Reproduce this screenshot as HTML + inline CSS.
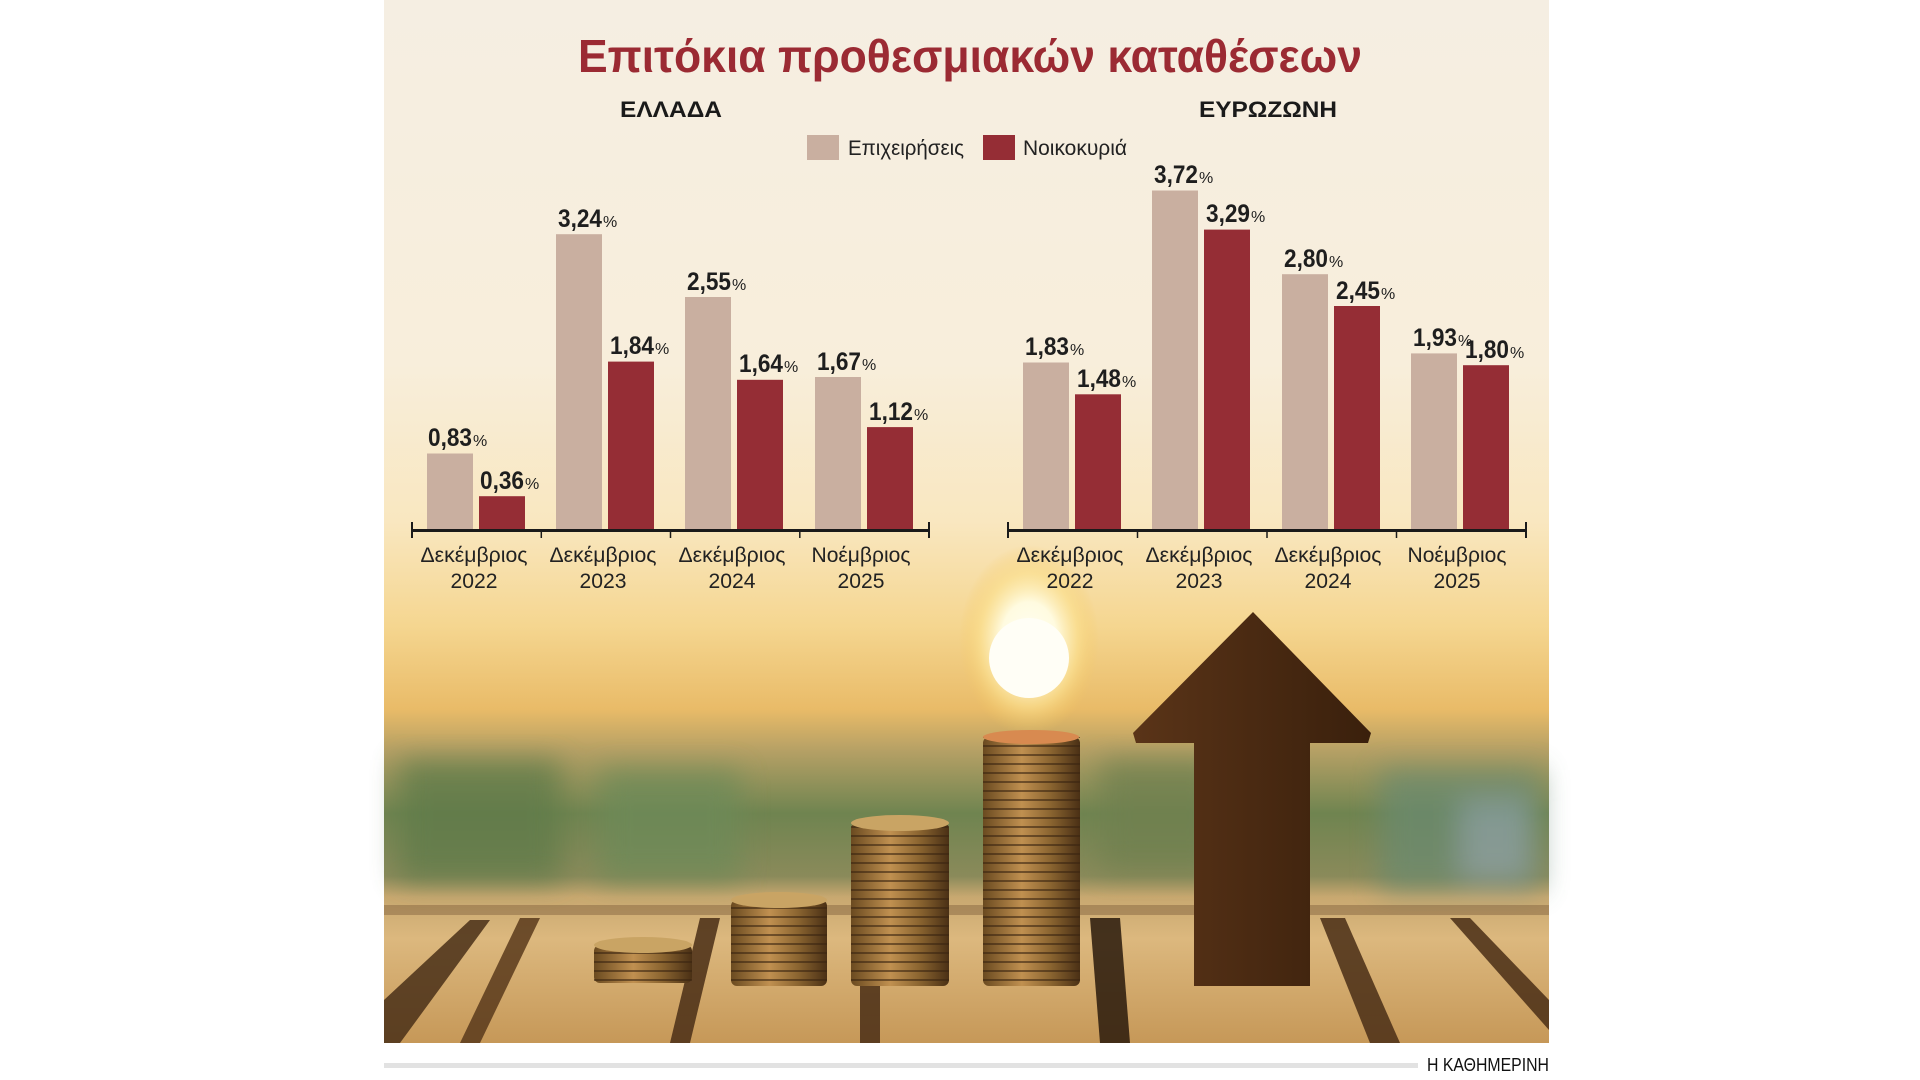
<!DOCTYPE html>
<html><head><meta charset="utf-8"><style>
html,body{margin:0;padding:0;background:#fff;width:1920px;height:1080px;overflow:hidden}
svg{display:block}
text{font-family:"Liberation Sans","DejaVu Sans",sans-serif}
</style></head><body>
<svg width="1920" height="1080" viewBox="0 0 1920 1080" xmlns="http://www.w3.org/2000/svg">
<defs>
<linearGradient id="sky" x1="0" y1="0" x2="0" y2="1">
<stop offset="0" stop-color="#f5eee2"/>
<stop offset="0.35" stop-color="#f8eedb"/>
<stop offset="0.5" stop-color="#f9e7c0"/>
<stop offset="0.6" stop-color="#f5d690"/>
<stop offset="0.68" stop-color="#e9bb68"/>
<stop offset="0.72" stop-color="#b5a065"/>
<stop offset="0.78" stop-color="#6f8450"/>
<stop offset="0.84" stop-color="#8a8a5a"/>
<stop offset="0.86" stop-color="#c8a870"/>
<stop offset="0.9" stop-color="#dcb87e"/>
<stop offset="1" stop-color="#c69858"/>
</linearGradient>
<radialGradient id="sun" cx="0.5" cy="0.5" r="0.5">
<stop offset="0" stop-color="#fffff4"/>
<stop offset="0.4" stop-color="#fffbe0"/>
<stop offset="0.7" stop-color="#fbe090" stop-opacity="0.7"/>
<stop offset="1" stop-color="#f5c860" stop-opacity="0"/>
</radialGradient>
<linearGradient id="coin" x1="0" y1="0" x2="1" y2="0">
<stop offset="0" stop-color="#6a4a20"/>
<stop offset="0.4" stop-color="#c09050"/>
<stop offset="0.7" stop-color="#8a6430"/>
<stop offset="1" stop-color="#4a3015"/>
</linearGradient>
<pattern id="coinlines" width="2000" height="9" patternUnits="userSpaceOnUse">
<rect y="7" width="2000" height="2" fill="#3a2410" opacity="0.6"/>
</pattern>
<linearGradient id="arrowg" x1="0" y1="0" x2="1" y2="0">
<stop offset="0" stop-color="#5a3418"/>
<stop offset="0.5" stop-color="#4a2a12"/>
<stop offset="1" stop-color="#3a200c"/>
</linearGradient>
<filter id="blur" x="-20%" y="-20%" width="140%" height="140%"><feGaussianBlur stdDeviation="14"/></filter>
</defs>
<rect x="384" y="0" width="1165" height="1043" fill="url(#sky)"/>
<g filter="url(#blur)" opacity="0.75">
<rect x="400" y="760" width="160" height="120" fill="#5e7a48"/>
<rect x="600" y="770" width="140" height="110" fill="#6d8a58"/>
<rect x="1100" y="760" width="120" height="110" fill="#70804f"/>
<rect x="1380" y="770" width="160" height="120" fill="#6a8a70"/>
<rect x="1460" y="800" width="70" height="80" fill="#8aa0a8"/>
</g>
<g opacity="0.85">
<polygon points="384,905 1549,905 1549,915 384,915" fill="#7a5a38" opacity="0.5"/>
<polygon points="470,920 490,920 400,1043 384,1043 384,1000" fill="#4a3018"/>
<polygon points="520,918 540,918 480,1043 460,1043" fill="#5a3a1c"/>
<polygon points="700,918 720,918 690,1043 670,1043" fill="#4a2e16"/>
<polygon points="860,918 880,918 880,1043 860,1043" fill="#4a2e16"/>
<polygon points="1090,918 1120,918 1130,1043 1100,1043" fill="#2a1a0c"/>
<polygon points="1320,918 1345,918 1400,1043 1370,1043" fill="#4a2e16"/>
<polygon points="1450,918 1470,918 1549,1000 1549,1030" fill="#4a2e16"/>
</g>
<ellipse cx="1029" cy="640" rx="70" ry="95" fill="url(#sun)"/>
<circle cx="1029" cy="658" r="40" fill="#fffef6"/>
<g>
<rect x="594" y="945" width="98" height="38" rx="6" fill="url(#coin)"/>
<rect x="594" y="945" width="98" height="38" fill="url(#coinlines)"/>
<ellipse cx="643" cy="945" rx="49" ry="8" fill="#c9a464"/>
<rect x="731" y="900" width="96" height="86" rx="6" fill="url(#coin)"/>
<rect x="731" y="900" width="96" height="86" fill="url(#coinlines)"/>
<ellipse cx="779" cy="900" rx="48" ry="8" fill="#c9a464"/>
<rect x="851" y="823" width="98" height="163" rx="6" fill="url(#coin)"/>
<rect x="851" y="823" width="98" height="163" fill="url(#coinlines)"/>
<ellipse cx="900" cy="823" rx="49" ry="8" fill="#c9a464"/>
<rect x="983" y="737" width="97" height="249" rx="6" fill="url(#coin)"/>
<rect x="983" y="737" width="97" height="249" fill="url(#coinlines)"/>
<ellipse cx="1031" cy="737" rx="48" ry="7" fill="#d88a50"/>
</g>
<polygon points="1253,612 1371,733 1368,743 1310,743 1310,986 1194,986 1194,743 1136,743 1133,733" fill="url(#arrowg)"/>
<text x="578" y="72" font-size="46" font-weight="bold" fill="#9b2a33" textLength="784" lengthAdjust="spacingAndGlyphs">Επιτόκια προθεσμιακών καταθέσεων</text>
<text x="620" y="117" font-size="22" font-weight="bold" fill="#1a1a1a" textLength="102" lengthAdjust="spacingAndGlyphs">ΕΛΛΑΔΑ</text>
<text x="1199" y="117" font-size="22" font-weight="bold" fill="#1a1a1a" textLength="138" lengthAdjust="spacingAndGlyphs">ΕΥΡΩΖΩΝΗ</text>
<rect x="807" y="135" width="32" height="25" fill="#c9afa0"/>
<text x="848" y="155" font-size="21" fill="#222" textLength="116" lengthAdjust="spacingAndGlyphs">Επιχειρήσεις</text>
<rect x="983" y="135" width="32" height="25" fill="#952d35"/>
<text x="1023" y="155" font-size="21" fill="#222" textLength="104" lengthAdjust="spacingAndGlyphs">Νοικοκυριά</text>
<g transform="translate(-2,0)">
<g>
<rect x="429" y="453.5" width="46" height="75.5" fill="#c9afa0"/>
<rect x="481" y="496.2" width="46" height="32.8" fill="#952d35"/>
<rect x="558" y="234.2" width="46" height="294.8" fill="#c9afa0"/>
<rect x="610" y="361.6" width="46" height="167.4" fill="#952d35"/>
<rect x="687" y="297" width="46" height="232" fill="#c9afa0"/>
<rect x="739" y="379.8" width="46" height="149.2" fill="#952d35"/>
<rect x="817" y="377" width="46" height="152" fill="#c9afa0"/>
<rect x="869" y="427.1" width="46" height="101.9" fill="#952d35"/>
<rect x="1025" y="362.5" width="46" height="166.5" fill="#c9afa0"/>
<rect x="1077" y="394.3" width="46" height="134.7" fill="#952d35"/>
<rect x="1154" y="190.5" width="46" height="338.5" fill="#c9afa0"/>
<rect x="1206" y="229.6" width="46" height="299.4" fill="#952d35"/>
<rect x="1284" y="274.2" width="46" height="254.8" fill="#c9afa0"/>
<rect x="1336" y="306" width="46" height="223" fill="#952d35"/>
<rect x="1413" y="353.4" width="46" height="175.6" fill="#c9afa0"/>
<rect x="1465" y="365.2" width="46" height="163.8" fill="#952d35"/>
</g>
<g font-weight="bold" fill="#1e1e1e" font-size="25">
<text x="430" y="446" textLength="44" lengthAdjust="spacingAndGlyphs">0,83</text>
<text x="482" y="489" textLength="44" lengthAdjust="spacingAndGlyphs">0,36</text>
<text x="560" y="227" textLength="44" lengthAdjust="spacingAndGlyphs">3,24</text>
<text x="612" y="354" textLength="44" lengthAdjust="spacingAndGlyphs">1,84</text>
<text x="689" y="290" textLength="44" lengthAdjust="spacingAndGlyphs">2,55</text>
<text x="741" y="372" textLength="44" lengthAdjust="spacingAndGlyphs">1,64</text>
<text x="819" y="370" textLength="44" lengthAdjust="spacingAndGlyphs">1,67</text>
<text x="871" y="420" textLength="44" lengthAdjust="spacingAndGlyphs">1,12</text>
<text x="1027" y="355" textLength="44" lengthAdjust="spacingAndGlyphs">1,83</text>
<text x="1079" y="387" textLength="44" lengthAdjust="spacingAndGlyphs">1,48</text>
<text x="1156" y="183" textLength="44" lengthAdjust="spacingAndGlyphs">3,72</text>
<text x="1208" y="222" textLength="44" lengthAdjust="spacingAndGlyphs">3,29</text>
<text x="1286" y="267" textLength="44" lengthAdjust="spacingAndGlyphs">2,80</text>
<text x="1338" y="299" textLength="44" lengthAdjust="spacingAndGlyphs">2,45</text>
<text x="1415" y="346" textLength="44" lengthAdjust="spacingAndGlyphs">1,93</text>
<text x="1467" y="358" textLength="44" lengthAdjust="spacingAndGlyphs">1,80</text>
</g>
<g fill="#1e1e1e" font-size="16">
<text x="475" y="446">%</text><text x="527" y="489">%</text>
<text x="605" y="227">%</text><text x="657" y="354">%</text>
<text x="734" y="290">%</text><text x="786" y="372">%</text>
<text x="864" y="370">%</text><text x="916" y="420">%</text>
<text x="1072" y="355">%</text><text x="1124" y="387">%</text>
<text x="1201" y="183">%</text><text x="1253" y="222">%</text>
<text x="1331" y="267">%</text><text x="1383" y="299">%</text>
<text x="1460" y="346">%</text><text x="1512" y="358">%</text>
</g>
<g stroke="#1a1a1a">
<line x1="413" y1="530.5" x2="932" y2="530.5" stroke-width="3"/>
<line x1="414" y1="522" x2="414" y2="538" stroke-width="2"/>
<line x1="543.3" y1="530" x2="543.3" y2="538" stroke-width="1.5"/>
<line x1="672.5" y1="530" x2="672.5" y2="538" stroke-width="1.5"/>
<line x1="801.8" y1="530" x2="801.8" y2="538" stroke-width="1.5"/>
<line x1="931" y1="522" x2="931" y2="538" stroke-width="2"/>
<line x1="1009" y1="530.5" x2="1529" y2="530.5" stroke-width="3"/>
<line x1="1010" y1="522" x2="1010" y2="538" stroke-width="2"/>
<line x1="1139.5" y1="530" x2="1139.5" y2="538" stroke-width="1.5"/>
<line x1="1269" y1="530" x2="1269" y2="538" stroke-width="1.5"/>
<line x1="1398.5" y1="530" x2="1398.5" y2="538" stroke-width="1.5"/>
<line x1="1528" y1="522" x2="1528" y2="538" stroke-width="2"/>
</g>
<g fill="#222" font-size="21" text-anchor="middle">
<text x="476" y="562" textLength="107" lengthAdjust="spacingAndGlyphs">Δεκέμβριος</text>
<text x="605" y="562" textLength="107" lengthAdjust="spacingAndGlyphs">Δεκέμβριος</text>
<text x="734" y="562" textLength="107" lengthAdjust="spacingAndGlyphs">Δεκέμβριος</text>
<text x="863" y="562" textLength="99" lengthAdjust="spacingAndGlyphs">Νοέμβριος</text>
<text x="476" y="588" textLength="47" lengthAdjust="spacingAndGlyphs">2022</text>
<text x="605" y="588" textLength="47" lengthAdjust="spacingAndGlyphs">2023</text>
<text x="734" y="588" textLength="47" lengthAdjust="spacingAndGlyphs">2024</text>
<text x="863" y="588" textLength="47" lengthAdjust="spacingAndGlyphs">2025</text>
<text x="1072" y="562" textLength="107" lengthAdjust="spacingAndGlyphs">Δεκέμβριος</text>
<text x="1201" y="562" textLength="107" lengthAdjust="spacingAndGlyphs">Δεκέμβριος</text>
<text x="1330" y="562" textLength="107" lengthAdjust="spacingAndGlyphs">Δεκέμβριος</text>
<text x="1459" y="562" textLength="99" lengthAdjust="spacingAndGlyphs">Νοέμβριος</text>
<text x="1072" y="588" textLength="47" lengthAdjust="spacingAndGlyphs">2022</text>
<text x="1201" y="588" textLength="47" lengthAdjust="spacingAndGlyphs">2023</text>
<text x="1330" y="588" textLength="47" lengthAdjust="spacingAndGlyphs">2024</text>
<text x="1459" y="588" textLength="47" lengthAdjust="spacingAndGlyphs">2025</text>
</g>
</g>
<rect x="384" y="1063" width="1034" height="5" fill="#e2e2e2"/>
<text x="1427" y="1071" font-size="18" fill="#111" textLength="122" lengthAdjust="spacingAndGlyphs">Η ΚΑΘΗΜΕΡΙΝΗ</text>
</svg>
</body></html>
